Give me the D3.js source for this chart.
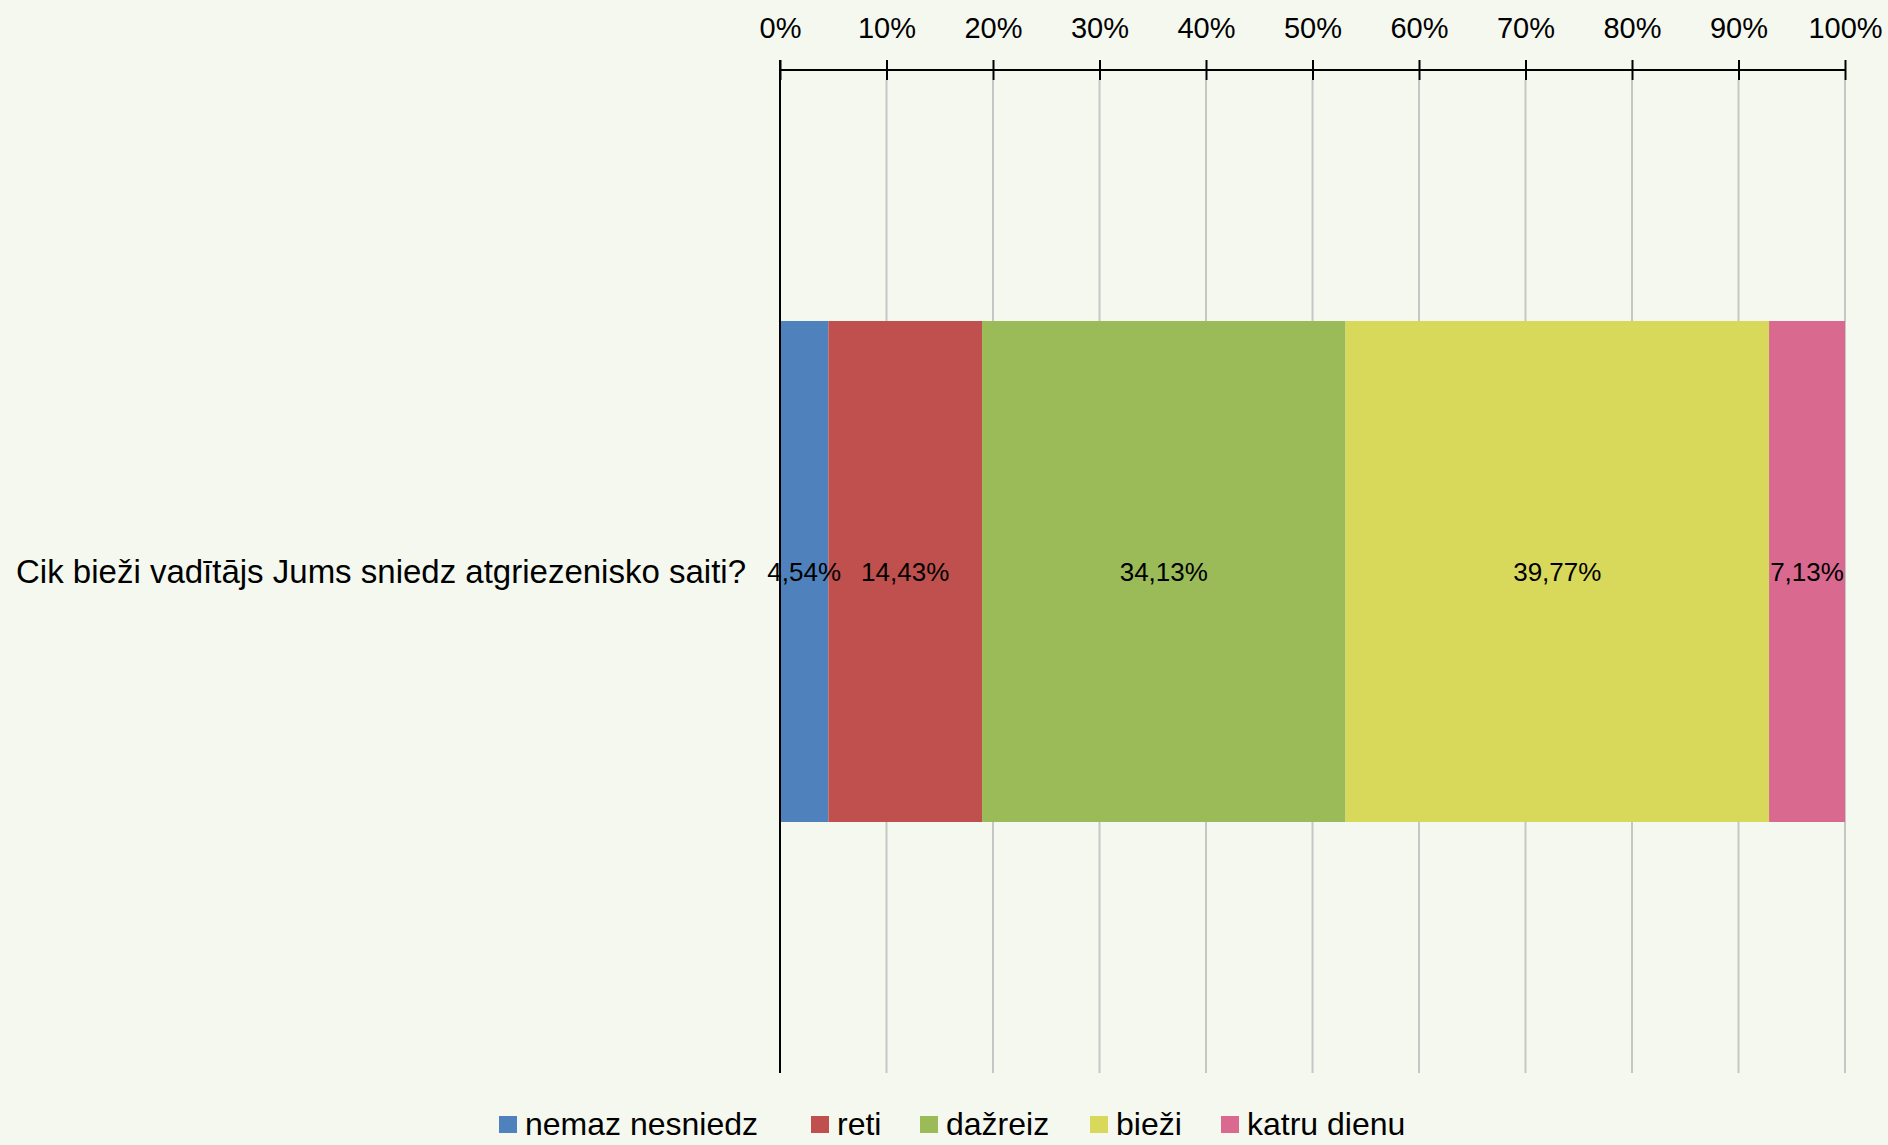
<!DOCTYPE html>
<html>
<head>
<meta charset="utf-8">
<script src="https://cdn.jsdelivr.net/npm/d3@7"></script>
<style>
  body { margin: 0; background: #F5F8EF; overflow: hidden; }
  svg text { font-family: "Liberation Sans", Arial, sans-serif; fill: #000; }
</style>
</head>
<body>
<div id="chart"></div>
<script>
const width = 1888;
const height = 1145;

// data
const categories = ["Cik bieži vadītājs Jums sniedz atgriezenisko saiti?"];
const seriesNames = ["nemaz nesniedz", "reti", "dažreiz", "bieži", "katru dienu"];
const seriesValues = [4.54, 14.43, 34.13, 39.77, 7.13];
const tickValues = [0, 10, 20, 30, 40, 50, 60, 70, 80, 90, 100];
const colors = ["#4F81BD", "#C0504D", "#9BBB59", "#D8D85B", "#D9698F"];

const margin = { top: 70, left: 780, right: 43, bottom: 72 };

const x = d3.scaleLinear()
    .domain([0, 100])
    .range([margin.left, width - margin.right]);

const y = d3.scaleBand()
    .domain(categories)
    .range([70, 1073])
    .paddingInner(0)
    .paddingOuter(0.501);

const svg = d3.select("#chart")
    .append("svg")
    .attr("width", width)
    .attr("height", height)
    .style("display", "block")
    .style("background", "#F5F8EF");

// gridlines
svg.append("g")
    .selectAll("line")
    .data(tickValues.slice(1))
    .enter()
    .append("line")
    .attr("x1", d => x(d))
    .attr("x2", d => x(d))
    .attr("y1", 80)
    .attr("y2", 1073)
    .attr("stroke", "#C6C6C6")
    .attr("stroke-width", 2);

// stacked segments
let acc = 0;
const stacked = seriesValues.map((v, i) => {
    const s = { name: seriesNames[i], value: v, x0: acc, x1: acc + v, color: colors[i] };
    acc += v;
    return s;
});

const barGroup = svg.append("g");
barGroup.selectAll("rect")
    .data(stacked)
    .enter()
    .append("rect")
    .attr("x", d => x(d.x0))
    .attr("y", y(categories[0]))
    .attr("width", d => x(d.x1) - x(d.x0))
    .attr("height", y.bandwidth())
    .attr("fill", d => d.color);

// data labels
barGroup.selectAll("text")
    .data(stacked)
    .enter()
    .append("text")
    .attr("x", d => (x(d.x0) + x(d.x1)) / 2)
    .attr("y", y(categories[0]) + y.bandwidth() / 2)
    .attr("dy", "0.35em")
    .attr("text-anchor", "middle")
    .style("font-size", "26px")
    .text(d => d.value.toFixed(2).replace(".", ",") + "%");

// top axis
const xAxis = d3.axisTop(x)
    .tickValues(tickValues)
    .tickSize(10)
    .tickPadding(22)
    .tickFormat(d => d + "%");

const axisG = svg.append("g")
    .attr("transform", `translate(0, ${margin.top})`)
    .call(xAxis);

axisG.select(".domain").attr("stroke", "#000").attr("stroke-width", 2)
    .attr("d", `M${x(0)},0H${x(100)}`);
axisG.selectAll(".tick line")
    .attr("stroke", "#000")
    .attr("stroke-width", 2)
    .attr("y1", 10)
    .attr("y2", -10);
axisG.selectAll(".tick text")
    .style("font-size", "29px")
    .style("font-family", "Liberation Sans, Arial, sans-serif")
    .attr("fill", "#000");

// left axis line
svg.append("line")
    .attr("x1", x(0))
    .attr("x2", x(0))
    .attr("y1", 60)
    .attr("y2", 1073)
    .attr("stroke", "#000")
    .attr("stroke-width", 2);

// category label
svg.append("text")
    .attr("x", x(0) - 34)
    .attr("y", y(categories[0]) + y.bandwidth() / 2)
    .attr("dy", "0.35em")
    .attr("text-anchor", "end")
    .style("font-size", "33px")
    .text(categories[0]);

// legend
const legendX = [499, 811, 920, 1090, 1221];
const legend = svg.selectAll(".legend")
    .data(seriesNames)
    .enter()
    .append("g")
    .attr("class", "legend")
    .attr("transform", (d, i) => `translate(${legendX[i]}, 1116)`);

legend.append("rect")
    .attr("width", 18)
    .attr("height", 17)
    .attr("fill", (d, i) => colors[i]);

legend.append("text")
    .attr("x", 26)
    .attr("y", 19)
    .style("font-size", "32px")
    .text(d => d);
</script>
</body>
</html>
